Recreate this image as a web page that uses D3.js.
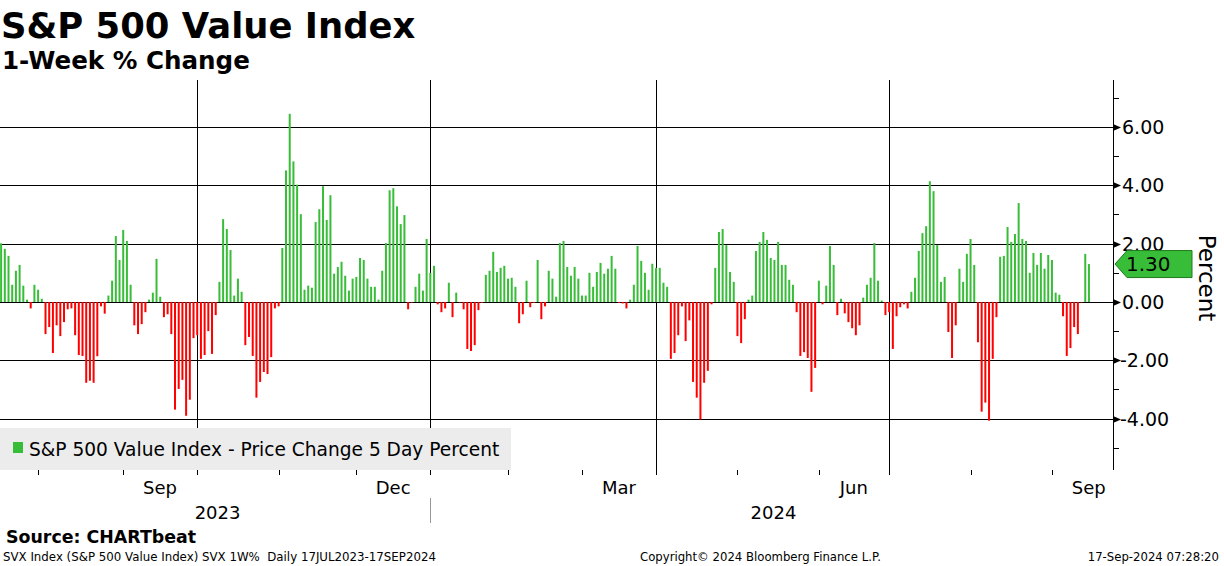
<!DOCTYPE html>
<html>
<head>
<meta charset="utf-8">
<script src="https://cdn.jsdelivr.net/npm/d3@7"></script>
<style>
  body { margin: 0; background: #fff; }
  svg { display: block; }
  text { font-family: "DejaVu Sans", sans-serif; white-space: pre; }
</style>
</head>
<body>
<div id="chart"></div>
<script>
////////
// Data: 1-week % change of the S&P 500 Value Index, one value per trading day
// (17 Jul 2023 .. 16 Sep 2024)
let pctChange = [
  2.01, 1.82, 1.58, 0.59, 1.07, 1.27, 0.56, 0.08, -0.22, 0.59, 0.42, 0.11, -1.10, -0.86,
  -1.75, -0.80, -1.17, -0.69, -0.25, -0.22, -1.14, -1.82, -1.85, -2.77, -2.70, -2.77, -1.86, -0.15,
  -0.40, 0.22, 0.73, 2.26, 1.44, 2.47, 2.09, 0.59, -0.80, -1.10, -0.76, -0.35, 0.08, 0.32,
  1.48, 0.18, -0.52, -0.42, -1.10, -3.69, -2.98, -2.67, -3.90, -3.35, -1.24, -1.14, -1.95,
  -1.82, -1.00, -1.78, -0.45, 0.69, 2.84, 2.50, 1.78, 0.22, 0.80, 0.35, -1.48, -1.20, -1.85,
  -3.28, -2.74, -2.40, -2.47, -1.89, -0.22, -0.15, 1.85, 4.51, 6.45, 4.82, 4.02, 3.01,
  0.42, 0.56, 0.49, 2.74, 3.18, 3.97, 2.81, 3.66, 0.97, 1.20, 1.38, 0.90, 0.39, 0.80,
  0.86, 1.51, 1.44, 0.80, 0.52, 0.52, 0.08, 1.07, 2.02, 3.83, 3.90, 3.28, 2.67,
  2.98, -0.25, -0.02, 0.52, 0.97, 0.39, 2.16, 1.00, 1.24, -0.08, -0.35, -0.22, 0.66, -0.52,
  0.32, -0.02, -0.25, -1.61, -1.68, -1.48, -0.28, -0.03, 0.93, 1.07, 1.72, 1.03, 1.17,
  1.24, 0.80, 0.83, 0.52, -0.73, -0.42, 0.73, -0.18, -0.03, 1.44, -0.59, -0.15, 1.07, 0.80,
  0.18, 2.02, 2.09, 1.20, 0.90, 1.20, 0.80, 0.22, 0.22, 1.00, 0.52, 1.03, 1.34,
  0.97, 1.14, 1.58, 1.14, -0.03, -0.05, -0.22, 0.08, 0.59, 1.92, 1.41, 1.00, 0.42, 1.31,
  1.17, 1.17, 0.66, 0.52, -1.95, -1.75, -1.14, -0.15, -1.34, -0.63, -2.74, -3.28, -4.03,
  -2.77, -2.36, -0.08, 1.17, 2.40, 2.50, 1.95, 1.03, 0.69, -1.17, -1.41, -0.59, 0.08, 0.22,
  1.75, 2.06, 2.40, 2.13, 1.51, 1.44, 2.06, 1.27, 1.27, 0.76, 0.59, -0.35, -1.85,
  -1.72, -1.92, -3.08, -2.26, 0.73, -0.08, 0.56, 1.92, 1.27, -0.45, 0.11, -0.39, -0.69, -0.90,
  -1.14, -0.80, 0.15, 0.59, 0.83, 2.02, 0.73, 0.05, -0.45, -0.35, -1.61, -0.49, -0.18,
  -0.08, -0.22, 0.35, 0.83, 1.75, 2.36, 2.60, 4.14, 3.80, 1.95, 0.69, 0.86, -1.03, -1.92,
  -0.80, 1.14, 0.69, 1.65, 2.16, 1.27, -1.38, -3.76, -3.45, -4.07, -1.95, -0.52, 1.55,
  1.58, 2.57, 2.06, 2.33, 3.39, 2.16, 2.09, 1.00, 1.68, 1.27, 1.68, 1.14, 1.61, 1.44,
  0.32, 0.25, -0.49, -1.85, -1.58, -0.86, -1.10, -0.02, 1.65, 1.30
];

// Months on the time axis and their number of trading days
// (July 2023 counted from the first bar, September 2024 counted in full)
let monthNames = ["Jul", "Aug", "Sep", "Oct", "Nov", "Dec", "Jan", "Feb", "Mar",
                  "Apr", "May", "Jun", "Jul", "Aug", "Sep"];
let monthDays  = [11, 23, 20, 22, 21, 20, 21, 20, 20, 22, 22, 19, 22, 22, 20];
let labelMonths = ["Mar", "Jun", "Sep", "Dec"];
let yearNames = ["2023", "2024"];
let yearFirstMonth = [0, 6];

let yTicks = [-4, -2, 0, 2, 4, 6];
let yMinorTicks = [-5, -3, -1, 1, 3, 5, 7];
let lastValue = pctChange[pctChange.length - 1];

let titleText = "S&P 500 Value Index";
let subtitleText = "1-Week % Change";
let legendText = "S&P 500 Value Index - Price Change 5 Day Percent";


////////
// Canvas
let svg_width = 1224;
let svg_height = 566;

let plotLeft = 0, plotRight = 1113, plotTop = 80, plotBottom = 470;

let green = "#38bd38";
let red = "#ff0000";

let svg = d3.select("#chart")
  .append("svg")
  .attr("width", svg_width)
  .attr("height", svg_height);


////////
// Scales
let xScale = d3.scaleLinear()
  .domain([-0.3, 300.5])
  .range([plotLeft, plotRight]);

let yScale = d3.scaleLinear()
  .domain([-5.76, 7.61])
  .range([plotBottom, plotTop]);

// month start indices
let monthStart = [];
let acc = 0;
monthDays.forEach(function(d) { monthStart.push(acc); acc += d; });

let quarterStarts = monthStart.filter(function(s, i) {
  return ["Oct", "Jan", "Apr", "Jul"].includes(monthNames[i]) && i > 0;
});


////////
// Grid
let grid = svg.append("g");

grid.selectAll("line.h")
  .data(yTicks)
  .enter()
  .append("line")
  .attr("x1", plotLeft)
  .attr("x2", plotRight)
  .attr("y1", d => Math.round(yScale(d)) + 0.5)
  .attr("y2", d => Math.round(yScale(d)) + 0.5)
  .attr("stroke", "#000")
  .attr("stroke-width", 1);

grid.selectAll("line.v")
  .data(quarterStarts)
  .enter()
  .append("line")
  .attr("x1", d => Math.round(xScale(d - 1)) + 0.5)
  .attr("x2", d => Math.round(xScale(d - 1)) + 0.5)
  .attr("y1", plotTop)
  .attr("y2", plotBottom)
  .attr("stroke", "#000")
  .attr("stroke-width", 1);


////////
// Bars
svg.append("g")
  .selectAll("rect")
  .data(pctChange)
  .enter()
  .append("rect")
  .attr("x", (d, i) => xScale(i) - 1)
  .attr("width", 2)
  .attr("y", d => yScale(Math.max(0, d)))
  .attr("height", d => Math.max(0.6, Math.abs(yScale(d) - yScale(0))))
  .attr("fill", d => d >= 0 ? green : red);


////////
// Legend
svg.append("rect")
  .attr("x", 0).attr("y", 428)
  .attr("width", 511).attr("height", 42)
  .attr("fill", "#ececec");

svg.append("rect")
  .attr("x", 13).attr("y", 442)
  .attr("width", 10).attr("height", 11)
  .attr("fill", green);

svg.append("text")
  .attr("x", 29).attr("y", 456)
  .attr("font-size", 18.6)
  .text(legendText);


////////
// Right axis
let axisG = svg.append("g");

axisG.append("line")
  .attr("x1", plotRight + 0.5).attr("x2", plotRight + 0.5)
  .attr("y1", plotTop).attr("y2", plotBottom)
  .attr("stroke", "#000");

axisG.selectAll("path.arrow")
  .data(yTicks)
  .enter()
  .append("path")
  .attr("d", function(d) {
    let y = Math.round(yScale(d)) + 0.5;
    return `M${plotRight},${y - 3.5}L${plotRight + 8},${y}L${plotRight},${y + 3.5}Z`;
  })
  .attr("fill", "#000");

axisG.selectAll("line.minor")
  .data(yMinorTicks)
  .enter()
  .append("line")
  .attr("x1", plotRight)
  .attr("x2", plotRight + 6)
  .attr("y1", d => Math.round(yScale(d)) + 0.5)
  .attr("y2", d => Math.round(yScale(d)) + 0.5)
  .attr("stroke", "#000");

axisG.selectAll("text.tick")
  .data(yTicks)
  .enter()
  .append("text")
  .attr("x", d => d < 0 ? 1120 : 1122)
  .attr("y", d => yScale(d) + 7)
  .attr("font-size", 19)
  .text(d => d3.format(".2f")(d).replace("\u2212", "-"));

axisG.append("text")
  .attr("transform", "translate(1199,278) rotate(90)")
  .attr("text-anchor", "middle")
  .attr("font-size", 23)
  .text("Percent");

// last value tag
let yl = yScale(lastValue);
axisG.append("path")
  .attr("d", `M${plotRight + 2},${yl}L${plotRight + 14},${yl - 13.5}L1192,${yl - 13.5}L1192,${yl + 13.5}L${plotRight + 14},${yl + 13.5}Z`)
  .attr("fill", green)
  .attr("stroke", "#1f7a1f")
  .attr("stroke-width", 1);

axisG.append("text")
  .attr("x", 1126)
  .attr("y", yl + 7)
  .attr("font-size", 20)
  .text(d3.format(".2f")(lastValue));


////////
// Bottom time axis
let xAxisG = svg.append("g");

xAxisG.selectAll("line.mtick")
  .data(monthStart.slice(1))
  .enter()
  .append("line")
  .attr("x1", d => Math.round(xScale(d - 1)) + 0.5)
  .attr("x2", d => Math.round(xScale(d - 1)) + 0.5)
  .attr("y1", plotBottom)
  .attr("y2", plotBottom + 5)
  .attr("stroke", "#000");

xAxisG.selectAll("text.month")
  .data(monthNames.map((m, i) => ({m: m, s: monthStart[i], n: monthDays[i]}))
    .filter(d => labelMonths.includes(d.m)))
  .enter()
  .append("text")
  .attr("x", d => xScale(d.s + (d.n - 1) / 2) - 2)
  .attr("y", 494)
  .attr("text-anchor", "middle")
  .attr("font-size", 18)
  .text(d => d.m);

let yearBounds = [monthStart[yearFirstMonth[0]], monthStart[yearFirstMonth[1]], 300.5];
xAxisG.selectAll("text.year")
  .data(yearNames)
  .enter()
  .append("text")
  .attr("x", (d, i) => (xScale(yearBounds[i]) + xScale(Math.min(yearBounds[i + 1], 300.5))) / 2)
  .attr("y", 519)
  .attr("text-anchor", "middle")
  .attr("font-size", 18)
  .text(d => d);

xAxisG.append("line")
  .attr("x1", Math.round(xScale(monthStart[yearFirstMonth[1]] - 1)) + 0.5)
  .attr("x2", Math.round(xScale(monthStart[yearFirstMonth[1]] - 1)) + 0.5)
  .attr("y1", 498).attr("y2", 523)
  .attr("stroke", "#999");


////////
// Titles and footer
svg.append("text")
  .attr("x", 1).attr("y", 38)
  .attr("font-size", 35.4).attr("font-weight", "bold")
  .text(titleText);

svg.append("text")
  .attr("x", 2).attr("y", 69)
  .attr("font-size", 24.6).attr("font-weight", "bold")
  .text(subtitleText);

svg.append("text")
  .attr("x", 6).attr("y", 543)
  .attr("font-size", 17.4).attr("font-weight", "bold")
  .text("Source: CHARTbeat");

svg.append("text")
  .attr("x", 3).attr("y", 561)
  .attr("font-size", 11.8)
  .text("SVX Index (S&P 500 Value Index) SVX 1W%  Daily 17JUL2023-17SEP2024");

svg.append("text")
  .attr("x", 640).attr("y", 561)
  .attr("font-size", 11.7)
  .text("Copyright\u00a9 2024 Bloomberg Finance L.P.");

svg.append("text")
  .attr("x", 1219).attr("y", 561)
  .attr("text-anchor", "end")
  .attr("font-size", 11.7)
  .text("17-Sep-2024 07:28:20");
</script>
</body>
</html>
